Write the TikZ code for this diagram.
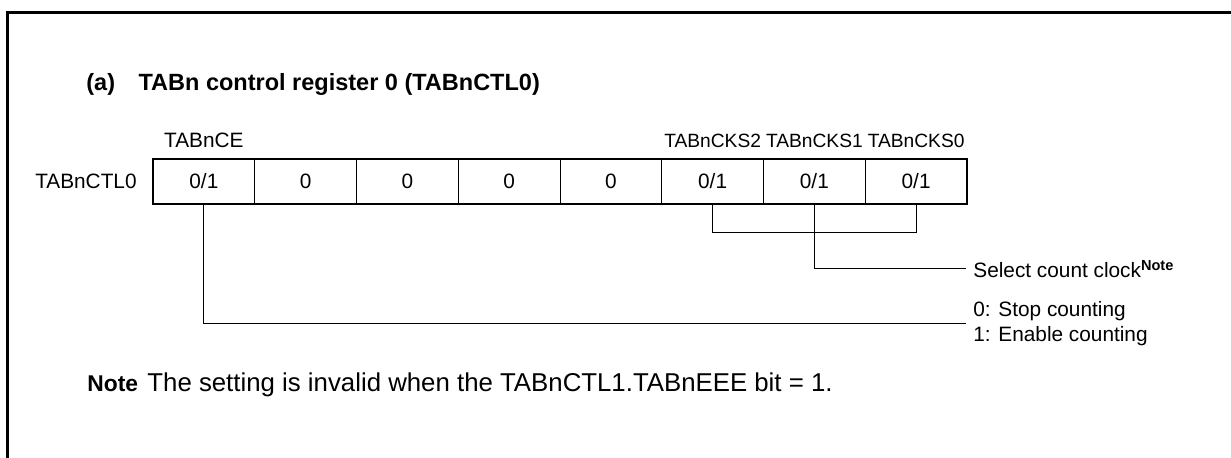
\documentclass[tikz,border=0pt]{standalone}
\usepackage{fontspec}
\setmainfont{Liberation Sans}
\usetikzlibrary{positioning}
\newcommand{\regfont}{\fontsize{10.4pt}{12.5pt}\selectfont}

\begin{document}
\begin{tikzpicture}[
    x=0.5pt, y=-0.5pt,
    node distance=0pt,
    cell/.style={rectangle, draw, line width=0.5pt, minimum width=50.875pt, minimum height=22.5pt, inner sep=0pt, outer sep=0pt, font=\regfont},
    lbl/.style={inner sep=0pt, font=\regfont},
    bitlbl/.style={inner sep=0pt, font=\fontsize{9.6pt}{11pt}\selectfont},
    endlbl/.style={inner xsep=3.5pt, inner ysep=0pt, anchor=west, align=left, font=\regfont},
    notelbl/.style={inner sep=0pt, anchor=base west, font=\fontsize{12.9pt}{15pt}\selectfont},
    frame/.style={draw, line width=1.5pt},
    wire/.style={draw, line width=0.5pt}
]
\useasboundingbox (0,0) rectangle (1231,458);
\draw[frame] (7.5,458) -- (7.5,12.5) -- (1231,12.5);

\node[lbl, anchor=west, font=\fontsize{11.75pt}{14pt}\selectfont\bfseries] (title) at (86,84) {(a)\quad TABn control register 0 (TABnCTL0)};

% register cells, bit 7 on the left
\node[cell] (b7) at (203.875,181.5) {0/1};
\node[cell, right=of b7] (b6) {0};
\node[cell, right=of b6] (b5) {0};
\node[cell, right=of b5] (b4) {0};
\node[cell, right=of b4] (b3) {0};
\node[cell, right=of b3] (b2) {0/1};
\node[cell, right=of b2] (b1) {0/1};
\node[cell, right=of b1] (b0) {0/1};
\draw[line width=1pt] (b7.north west) rectangle (b0.south east);

\node[lbl, left=8pt of b7] (regname) {TABnCTL0};
\node[lbl, above=5.25pt of b7] (ce) {TABnCE};
\node[bitlbl, above=5.25pt of b2] (cks2) {TABnCKS2};
\node[bitlbl, above=5.25pt of b1] (cks1) {TABnCKS1};
\node[bitlbl, above=5.25pt of b0] (cks0) {TABnCKS0};

\node[endlbl] (clk) at (966,269) {Select count clock\textsuperscript{\textbf{Note}}};
\node[endlbl] (cnt) at (966,324) {0: Stop counting\\1: Enable counting};

\draw[wire] (b2.south) -- ++(0,28.5) -| (b0.south);
\draw[wire] (b1.south) |- (clk.west);
\draw[wire] (b7.south) |- (cnt.west);

\node[notelbl, font=\fontsize{11.4pt}{15pt}\selectfont\bfseries] (notehead) at (87,392) {Note};
\node[notelbl] (notetext) at (147,392) {The setting is invalid when the TABnCTL1.TABnEEE bit = 1.};

\end{tikzpicture}
\end{document}
